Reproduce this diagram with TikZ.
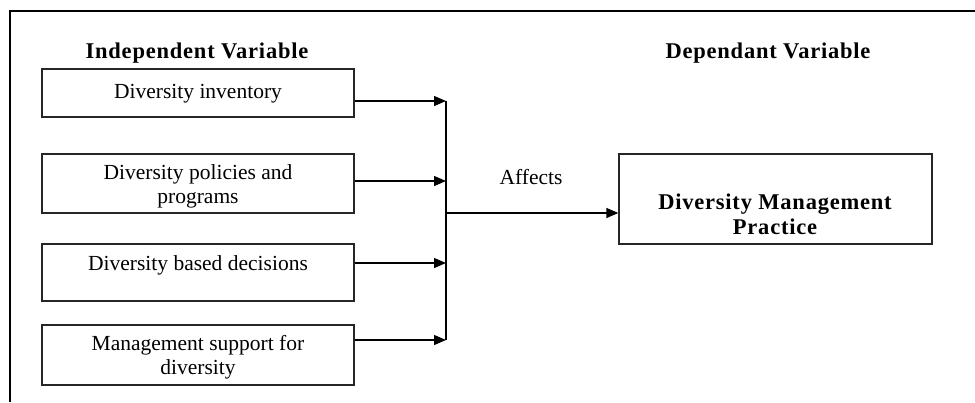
\documentclass[tikz,border=0pt]{standalone}
\usepackage{fontspec}
\setmainfont{Liberation Serif}
\usetikzlibrary{arrows.meta}
\begin{document}
\begin{tikzpicture}[x=1pt,y=-1pt,
  box/.style={draw=black!85,line width=1.3pt,minimum width=312pt,inner sep=0pt,anchor=center},
  txt/.style={font=\fontsize{21.5}{24}\selectfont,align=center,inner sep=0pt},
  btxt/.style={font=\fontsize{22.5}{25}\selectfont\bfseries\addfontfeature{LetterSpace=3.5},align=center,inner sep=0pt},
  arr/.style={line width=1.3pt,-{Triangle[length=12pt,width=10pt]}},
  ln/.style={line width=1.3pt}]
\useasboundingbox (0,0) rectangle (975,402);
\draw[line width=2pt] (10,402) -- (10,11) -- (975,11);
\node[btxt] (hi) at (197,53) {Independent Variable};
\node[btxt] (hd) at (768,53) {Dependant Variable};
\node[box,minimum height=48pt] (b1) at (198,93) {};
\node[box,minimum height=59pt] (b2) at (198,183.5) {};
\node[box,minimum height=57pt] (b3) at (198,272.5) {};
\node[box,minimum height=60pt] (b4) at (198,355) {};
\node[txt] (t1) at (198,94) {Diversity inventory};
\node[txt] (t2) at (198,186) {Diversity policies and\\programs};
\node[txt] (t3) at (198,265) {Diversity based decisions};
\node[txt] (t4) at (198,357) {Management support for\\diversity};
\node[draw=black!85,line width=1.3pt,minimum width=313pt,minimum height=90pt,inner sep=0pt] (dm) at (775.5,199) {};
\node[btxt] (dmt) at (775,214) {Diversity Management\\Practice};
\node[txt] (aff) at (531,177) {Affects};
\coordinate (j1) at (446,101);
\coordinate (j2) at (446,181);
\coordinate (j3) at (446,263);
\coordinate (j4) at (446,340);
\coordinate (jm) at (446,213);
\draw[arr] (b1.east |- j1) -- (j1);
\draw[arr] (b2.east |- j2) -- (j2);
\draw[arr] (b3.east |- j3) -- (j3);
\draw[arr] (b4.east |- j4) -- (j4);
\draw[ln] (j1) -- (j4);
\draw[arr] (jm) -- (jm -| dm.west);
\end{tikzpicture}
\end{document}
